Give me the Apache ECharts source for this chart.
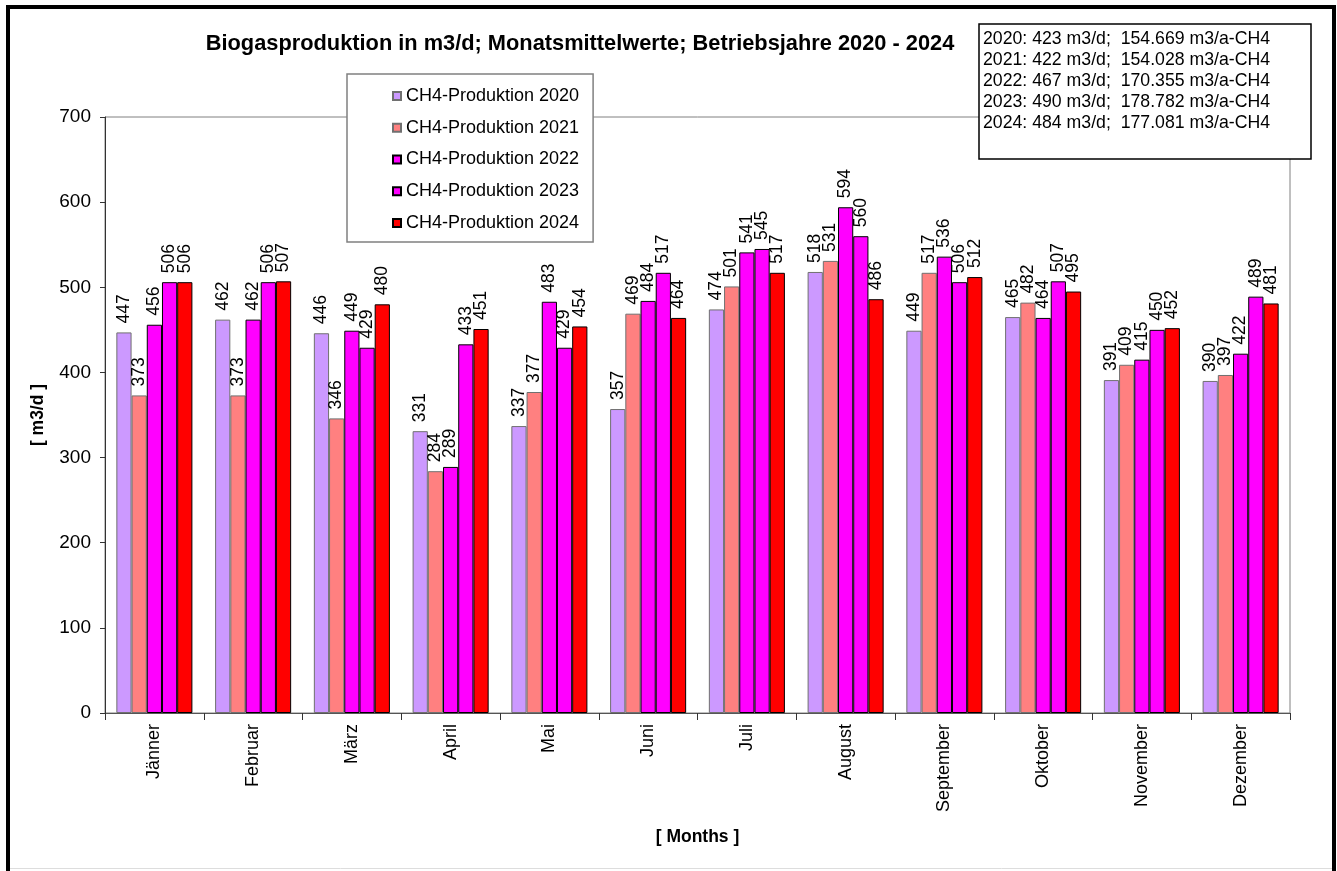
<!DOCTYPE html>
<html>
<head>
<meta charset="utf-8">
<title>Biogasproduktion</title>
<script src="https://cdn.jsdelivr.net/npm/echarts@6/dist/echarts.min.js"></script>
<style>
  html, body { margin: 0; padding: 0; background: #fff; }
  #chart { width: 1337px; height: 871px; }
</style>
</head>
<body>
<div id="chart"></div>
<script>
// Monate (Kategorien)
var months = ['Jänner', 'Februar', 'März', 'April', 'Mai', 'Juni', 'Juli', 'August', 'September', 'Oktober', 'November', 'Dezember'];

// Monatsmittelwerte m3/d
var ch4_2020 = [447, 462, 446, 331, 337, 357, 474, 518, 449, 465, 391, 390];
var ch4_2021 = [373, 373, 346, 284, 377, 469, 501, 531, 517, 482, 409, 397];
var ch4_2022 = [456, 462, 449, 289, 483, 484, 541, 594, 536, 464, 415, 422];
var ch4_2023 = [506, 506, 429, 433, 429, 517, 545, 560, 506, 507, 450, 489];
var ch4_2024 = [506, 507, 480, 451, 454, 464, 517, 486, 512, 495, 452, 481];

var seriesNames = ['CH4-Produktion 2020', 'CH4-Produktion 2021', 'CH4-Produktion 2022', 'CH4-Produktion 2023', 'CH4-Produktion 2024'];

// Jahreswerte (Textbox oben rechts)
var yearLines = [
  '2020: 423 m3/d;  154.669 m3/a-CH4',
  '2021: 422 m3/d;  154.028 m3/a-CH4',
  '2022: 467 m3/d;  170.355 m3/a-CH4',
  '2023: 490 m3/d;  178.782 m3/a-CH4',
  '2024: 484 m3/d;  177.081 m3/a-CH4'
];

var yTicks = { min: 0, max: 700, interval: 100 };

var font = 'Liberation Sans, Arial, sans-serif';
var colors = ['#CC99FF', '#FF8080', '#FF00FF', '#FF00FF', '#FF0000'];
var borders = ['#707070', '#707070', '#000000', '#000000', '#000000'];
var allData = [ch4_2020, ch4_2021, ch4_2022, ch4_2023, ch4_2024];

function makeSeries(i) {
  return {
    name: seriesNames[i],
    type: 'bar',
    data: allData[i],
    barGap: '0%',
    barCategoryGap: '23%',
    itemStyle: { color: colors[i], borderColor: borders[i], borderWidth: 1 },
    label: {
      show: true,
      position: 'top',
      rotate: 90,
      align: 'left',
      verticalAlign: 'middle',
      distance: 9,
      color: '#000',
      fontFamily: font,
      fontSize: 17.5
    }
  };
}

var myChart = echarts.init(document.getElementById('chart'));

var option = {
  animation: false,
  backgroundColor: '#fff',
  title: {
    text: 'Biogasproduktion in m3/d; Monatsmittelwerte; Betriebsjahre 2020 - 2024',
    left: 575,
    top: 28,
    textAlign: 'center',
    textStyle: { fontFamily: font, fontSize: 21.8, fontWeight: 'bold', color: '#000' }
  },
  legend: {
    orient: 'vertical',
    left: 347,
    top: 74,
    padding: [12, 14, 9, 45],
    itemGap: 11.75,
    itemWidth: 8,
    itemHeight: 8,
    icon: 'rect',
    backgroundColor: '#fff',
    borderColor: '#808080',
    borderWidth: 1.5,
    textStyle: { fontFamily: font, fontSize: 18, color: '#000', lineHeight: 20 },
    data: seriesNames
  },
  grid: {
    left: 105,
    right: 47,
    top: 117,
    bottom: 158,
    show: true,
    borderColor: '#808080',
    borderWidth: 1
  },
  xAxis: {
    type: 'category',
    data: months,
    name: '[ Months ]',
    nameLocation: 'middle',
    nameGap: 115,
    nameTextStyle: { fontFamily: font, fontSize: 17.5, fontWeight: 'bold', color: '#000', verticalAlign: 'top' },
    axisLine: { lineStyle: { color: '#555', width: 1 } },
    axisTick: { show: true, interval: 0, length: 7, lineStyle: { color: '#333' } },
    axisLabel: { interval: 0, rotate: 90, margin: 11, fontFamily: font, fontSize: 18, color: '#000' }
  },
  yAxis: {
    type: 'value',
    min: yTicks.min,
    max: yTicks.max,
    interval: yTicks.interval,
    name: '[ m3/d ]',
    nameLocation: 'middle',
    nameGap: 58,
    nameTextStyle: { fontFamily: font, fontSize: 17.5, fontWeight: 'bold', color: '#000' },
    axisLine: { show: true, lineStyle: { color: '#333', width: 1 } },
    axisTick: { show: true, length: 5, lineStyle: { color: '#333' } },
    axisLabel: { margin: 14, fontFamily: font, fontSize: 19, color: '#000' },
    splitLine: { show: false }
  },
  graphic: [
    // äußerer Rahmen
    {
      type: 'rect',
      z: 100,
      shape: { x: 8, y: 7, width: 1326, height: 900 },
      style: { fill: 'none', stroke: '#000', lineWidth: 4 }
    },
    {
      type: 'line',
      z: 100,
      shape: { x1: 10, y1: 868.5, x2: 1332, y2: 868.5 },
      style: { stroke: '#ddd', lineWidth: 1 }
    },
    // Textbox mit Jahreswerten
    {
      type: 'group',
      z: 100,
      children: [
        {
          type: 'rect',
          shape: { x: 979, y: 24, width: 332, height: 135 },
          style: { fill: '#fff', stroke: '#000', lineWidth: 1.5 }
        }
      ].concat(yearLines.map(function (t, i) {
        return {
          type: 'text',
          x: 983,
          y: 39 + i * 21,
          style: { text: t, fill: '#000', font: '17.7px ' + font, textVerticalAlign: 'middle' }
        };
      }))
    }
  ],
  series: [0, 1, 2, 3, 4].map(makeSeries)
};

myChart.setOption(option);
</script>
</body>
</html>
